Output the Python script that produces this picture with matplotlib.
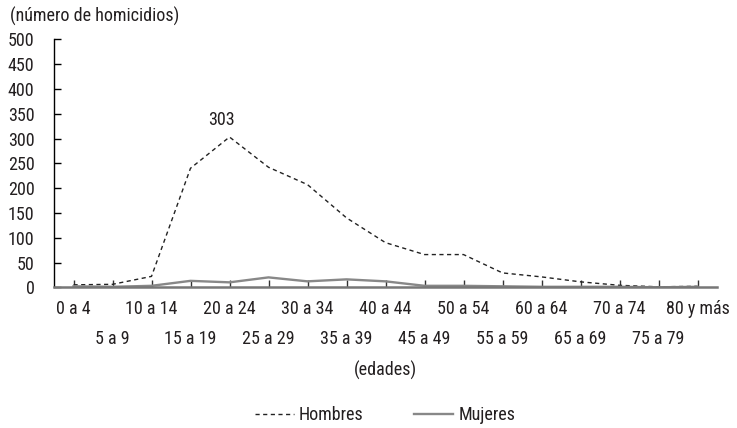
import matplotlib
matplotlib.use("Agg")
import matplotlib.pyplot as plt
from matplotlib.lines import Line2D

plt.rcParams['font.family'] = ['Roboto Condensed', 'DejaVu Sans']

categories = ["0 a 4", "5 a 9", "10 a 14", "15 a 19", "20 a 24", "25 a 29",
              "30 a 34", "35 a 39", "40 a 44", "45 a 49", "50 a 54", "55 a 59",
              "60 a 64", "65 a 69", "70 a 74", "75 a 79", "80 y más"]
hombres = [5, 6, 22, 240, 303, 242, 207, 140, 90, 66, 66, 29, 21, 11, 4, 1, 2]
mujeres = [2, 1, 3, 13, 10, 20, 12, 16, 12, 3, 3, 2, 1, 1, 1, 0, 1]
yticks = list(range(0, 501, 50))
peak_label = "303"

FS = 13
TXT = '#231f20'
fig = plt.figure(figsize=(7.37, 4.28), dpi=100)
ax = fig.add_axes([54/737, 1-287.3/428, (717-54)/737, (287.3-39.3)/428])

x = list(range(len(categories)))
dash = (0, (3, 2.5))
ax.plot(x, hombres, color='#222222', lw=1.0, linestyle=dash, label='Hombres')
ax.plot(x, mujeres, color='#888888', lw=1.7, label='Mujeres')

ax.set_xlim(-0.5, len(categories) - 0.5)
ax.set_ylim(0, 500)
ax.set_yticks(yticks)
ax.set_yticklabels([str(v) for v in yticks], fontsize=FS, color=TXT)

even = [i for i in x if i % 2 == 0]
odd = [i for i in x if i % 2 == 1]
ax.set_xticks(even)
ax.set_xticklabels([categories[i] for i in even], fontsize=FS, color=TXT)
ax.set_xticks(odd, minor=True)
ax.set_xticklabels([categories[i] for i in odd], minor=True, fontsize=FS, color=TXT)

ax.tick_params(axis='x', which='both', direction='in', length=5, width=1.0,
               color='#333333', pad=9)
ax.tick_params(axis='x', which='minor', pad=31)
ax.tick_params(axis='y', direction='in', length=5, width=1.0, color='black', pad=14)

for s in ['top', 'right']:
    ax.spines[s].set_visible(False)
ax.spines['left'].set_color('black')
ax.spines['left'].set_linewidth(1.0)
ax.spines['bottom'].set_color('#777777')
ax.spines['bottom'].set_linewidth(1.8)

ax.set_xlabel('(edades)', fontsize=FS, labelpad=9, color=TXT)

imax = hombres.index(max(hombres))
ax.annotate(peak_label, xy=(imax, hombres[imax]), xytext=(-6, 12),
            textcoords='offset points', ha='center', va='center', fontsize=FS, color=TXT)

fig.text(10/737, 1-16/428, '(número de homicidios)', fontsize=FS, ha='left', va='center', color=TXT)

handles = [Line2D([], [], color='#222222', lw=1.0, linestyle=dash),
           Line2D([], [], color='#888888', lw=1.7)]
leg = fig.legend(handles, ['Hombres', 'Mujeres'], loc='center', ncol=2,
                 bbox_to_anchor=(385/737, 1-415/428), frameon=False, fontsize=FS,
                 handlelength=2.15, handletextpad=0.3, columnspacing=2.8)
for t in leg.get_texts():
    t.set_color(TXT)

fig.savefig('out.png', dpi=100)
